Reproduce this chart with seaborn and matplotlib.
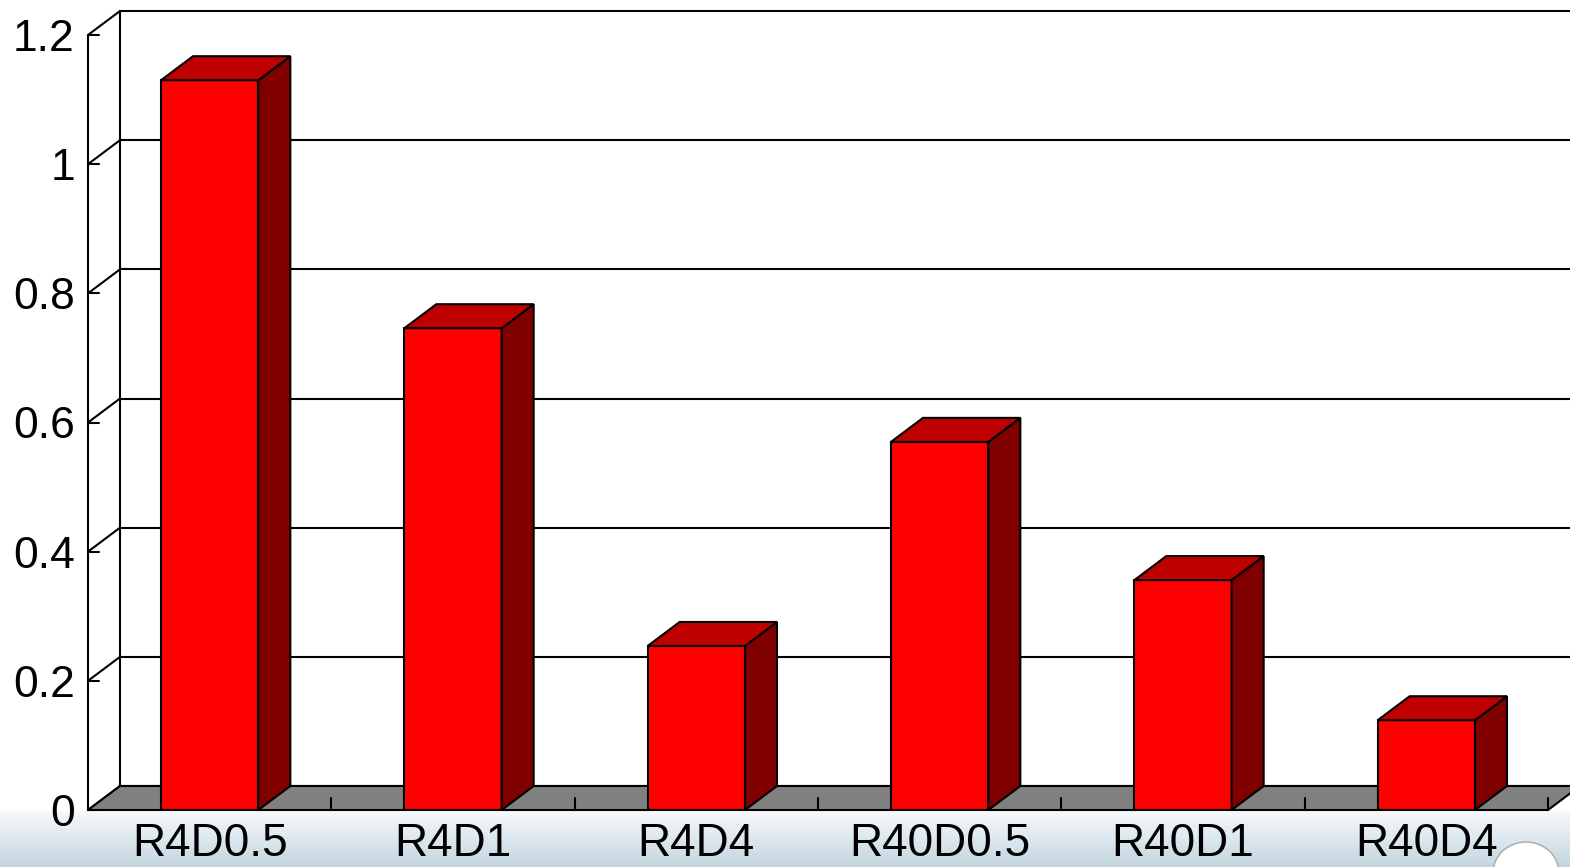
import numpy as np
import pandas as pd
import matplotlib
matplotlib.use("Agg")
import matplotlib.pyplot as plt
from matplotlib.patches import Polygon, Ellipse
import seaborn as sns

# Data
categories = ["R4D0.5", "R4D1", "R4D4", "R40D0.5", "R40D1", "R40D4"]
values = [1.13, 0.746, 0.254, 0.57, 0.356, 0.139]
y_ticks = [0, 0.2, 0.4, 0.6, 0.8, 1, 1.2]
y_tick_labels = ["0", "0.2", "0.4", "0.6", "0.8", "1", "1.2"]

sns.set_theme(style="white")
plt.rcParams["font.family"] = ["Liberation Sans", "DejaVu Sans"]

W, H, DPI = 1570, 867, 100
fig = plt.figure(figsize=(W / DPI, H / DPI), dpi=DPI)
fig.patch.set_facecolor("white")

# Soft bluish gradient band along the bottom edge
bg = fig.add_axes([0, 0, 1, 56 / H], zorder=-5)
grad = np.linspace(0, 1, 256)[:, None]
cmap = matplotlib.colors.LinearSegmentedColormap.from_list(
    "band", ["#c2d5df", "#dde8ee", "#f7f9fb"])
bg.imshow(grad, aspect="auto", cmap=cmap, origin="lower",
          extent=[0, W, 0, 56])
bg.add_patch(Ellipse((1526, -6), 66, 62, facecolor="white",
                     edgecolor="#a8a8a8", lw=1.0))
bg.set_xlim(0, W)
bg.set_ylim(0, 56)
bg.axis("off")

# Main plotting area (front plane of the 3D box)
left_px, right_px, bottom_px, top_px = 88, 1548, 810, 35
ax = fig.add_axes([left_px / W, (H - bottom_px) / H,
                   (right_px - left_px) / W, (bottom_px - top_px) / H])
ax.patch.set_visible(False)

df = pd.DataFrame({"category": categories, "value": values})
sns.barplot(data=df, x="category", y="value", color="#FF0000",
            saturation=1, width=0.4, edgecolor="black", linewidth=1.5,
            ax=ax, zorder=5)

ax.set_xlim(-0.5, len(categories) - 0.5)
ax.set_ylim(0, 1.2)
for s in ax.spines.values():
    s.set_visible(False)

# Depth offset of the box, in data units
px_x = (right_px - left_px) / len(categories)   # pixels per category
px_y = (bottom_px - top_px) / 1.2               # pixels per unit value
ddx = 32 / px_x
ddy = 24 / px_y

x_lo, x_hi = -0.5, len(categories) - 0.5
y_top = y_ticks[-1]
line_kw = dict(color="black", lw=1.5, clip_on=False)

# Back wall grid lines and border
for v in y_ticks:
    ax.plot([x_lo + ddx, x_hi + ddx + 1], [v + ddy, v + ddy], zorder=1, **line_kw)
ax.plot([x_lo + ddx, x_lo + ddx], [ddy, y_top + ddy], zorder=1, **line_kw)

# Left side wall: front axis, diagonals and inward ticks
ax.plot([x_lo, x_lo], [0, y_top], zorder=2, **line_kw)
for v in y_ticks:
    ax.plot([x_lo, x_lo + ddx], [v, v + ddy], zorder=2, **line_kw)
    ax.plot([x_lo, x_lo + 11 / px_x], [v, v], zorder=2, **line_kw)

# Floor
floor = Polygon([(x_lo, 0), (x_hi, 0), (x_hi + ddx, ddy), (x_lo + ddx, ddy)],
                closed=True, facecolor="#808080", edgecolor="black", lw=1.5,
                zorder=3, clip_on=False)
ax.add_patch(floor)
for b in np.arange(0.5, len(categories), 1.0):
    ax.plot([b, b], [0, 12 / px_y], zorder=3.5, **line_kw)

# Top and side faces of each bar
for bar in list(ax.patches):
    if bar is floor:
        continue
    x0 = bar.get_x()
    x1 = x0 + bar.get_width()
    h = bar.get_height()
    top = Polygon([(x0, h), (x1, h), (x1 + ddx, h + ddy), (x0 + ddx, h + ddy)],
                  closed=True, facecolor="#BF0000", edgecolor="black", lw=1.5,
                  zorder=6, clip_on=False)
    side = Polygon([(x1, 0), (x1 + ddx, ddy), (x1 + ddx, h + ddy), (x1, h)],
                   closed=True, facecolor="#800000", edgecolor="black", lw=1.5,
                   zorder=6, clip_on=False)
    ax.add_patch(side)
    ax.add_patch(top)

# Tick labels
ax.set_yticks(y_ticks)
ax.set_yticklabels(y_tick_labels)
ax.set_xticks(range(len(categories)))
ax.set_xticklabels(categories)
ax.tick_params(axis="y", length=0, pad=9.5, labelsize=32, labelcolor="black")
ax.tick_params(axis="x", length=0, pad=9, labelsize=33, labelcolor="black")
ax.set_xlabel("")
ax.set_ylabel("")

fig.savefig("out.png", dpi=DPI)
